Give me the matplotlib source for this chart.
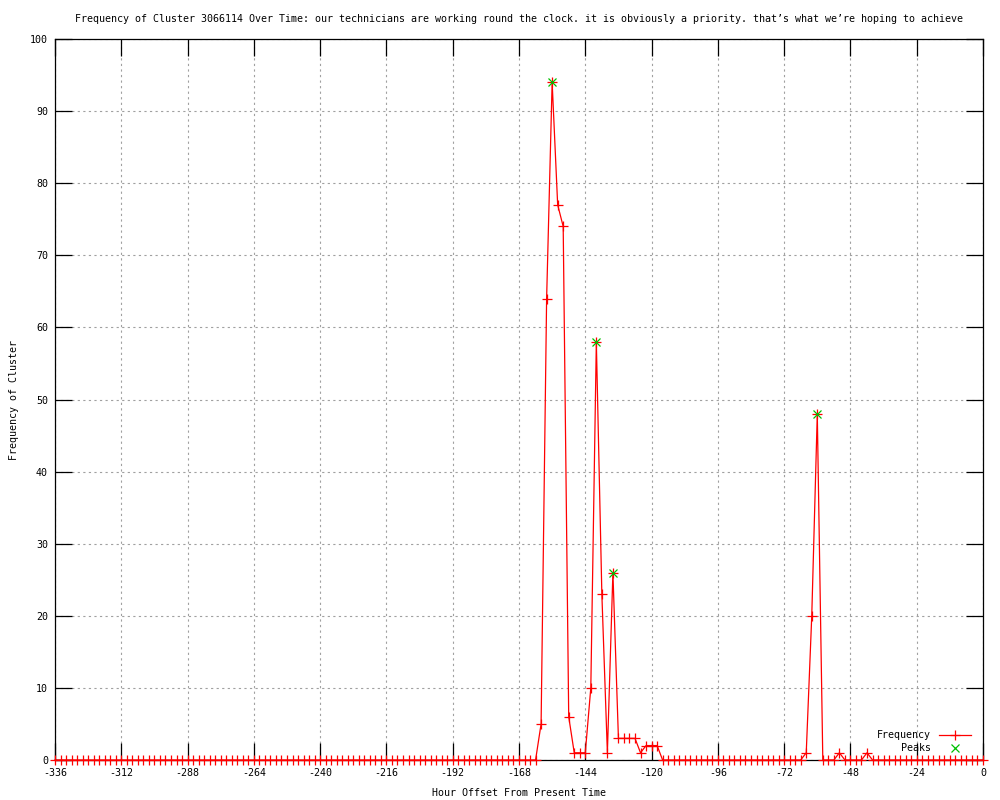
import numpy as np
import matplotlib
matplotlib.use("Agg")
import matplotlib.pyplot as plt

# Hour offsets (2-hour bins) from -336 to 0
hours = np.arange(-336, 1, 2)

# Frequency values, one row per 24 hours (12 bins), last value is hour 0
frequency = [
    0, 0, 0, 0, 0, 0, 0, 0, 0, 0, 0, 0,          # -336 .. -314
    0, 0, 0, 0, 0, 0, 0, 0, 0, 0, 0, 0,          # -312 .. -290
    0, 0, 0, 0, 0, 0, 0, 0, 0, 0, 0, 0,          # -288 .. -266
    0, 0, 0, 0, 0, 0, 0, 0, 0, 0, 0, 0,          # -264 .. -242
    0, 0, 0, 0, 0, 0, 0, 0, 0, 0, 0, 0,          # -240 .. -218
    0, 0, 0, 0, 0, 0, 0, 0, 0, 0, 0, 0,          # -216 .. -194
    0, 0, 0, 0, 0, 0, 0, 0, 0, 0, 0, 0,          # -192 .. -170
    0, 0, 0, 0, 5, 64, 94, 77, 74, 6, 1, 1,      # -168 .. -146
    1, 10, 58, 23, 1, 26, 3, 3, 3, 3, 1, 2,      # -144 .. -122
    2, 2, 0, 0, 0, 0, 0, 0, 0, 0, 0, 0,          # -120 .. -98
    0, 0, 0, 0, 0, 0, 0, 0, 0, 0, 0, 0,          # -96 .. -74
    0, 0, 0, 0, 1, 20, 48, 0, 0, 0, 1, 0,        # -72 .. -50
    0, 0, 0, 1, 0, 0, 0, 0, 0, 0, 0, 0,          # -48 .. -26
    0, 0, 0, 0, 0, 0, 0, 0, 0, 0, 0, 0,          # -24 .. -2
    0,                                           # 0
]

peak_hours = [-156, -140, -134, -60]
peak_values = [94, 58, 26, 48]

x_ticks = [-336, -312, -288, -264, -240, -216, -192, -168, -144, -120, -96, -72, -48, -24, 0]
y_ticks = [0, 10, 20, 30, 40, 50, 60, 70, 80, 90, 100]

title = ("Frequency of Cluster 3066114 Over Time: our technicians are working round the clock. "
         "it is obviously a priority. that\u2019s what we\u2019re hoping to achieve")

plt.rcParams['font.family'] = ['DejaVu Sans Mono', 'DejaVu Sans']
plt.rcParams['font.size'] = 7.2

fig = plt.figure(figsize=(10, 8), dpi=100)
ax = fig.add_axes([0.055, 0.05, 0.928, 0.90125])

ax.plot(hours, frequency, color='#ff0000', lw=0.9, marker='+', ms=7,
        mew=0.9, label='Frequency', zorder=3, clip_on=False)
ax.plot(peak_hours, peak_values, linestyle='none', marker='x', ms=6,
        mew=0.9, color='#00c000', label='Peaks', zorder=4)

ax.set_xlim(-336, 0)
ax.set_ylim(0, 100)
ax.set_xticks(x_ticks)
ax.set_yticks(y_ticks)
ax.set_xticklabels([str(t) for t in x_ticks])
ax.tick_params(direction='in', length=12, width=0.9, top=True, right=True,
               labelsize=7.2, colors='black')
ax.tick_params(axis='x', pad=6)
ax.tick_params(axis='y', pad=5)
ax.grid(True, color='#a0a0a0', linestyle=(0, (2, 3)), lw=0.8)
for s in ax.spines.values():
    s.set_linewidth(0.9)
    s.set_color('black')

ax.set_title(title, fontsize=7.2, pad=12.5)
ax.set_xlabel('Hour Offset From Present Time', fontsize=7.2, labelpad=7)
ax.set_ylabel('Frequency of Cluster', fontsize=7.2, labelpad=8)

leg = ax.legend(loc='lower right', frameon=False, markerfirst=False,
                fontsize=7.2, handlelength=3.2, labelspacing=0.25,
                borderaxespad=0.3, bbox_to_anchor=(0.995, 0.0))

fig.savefig('out.png', dpi=100)
